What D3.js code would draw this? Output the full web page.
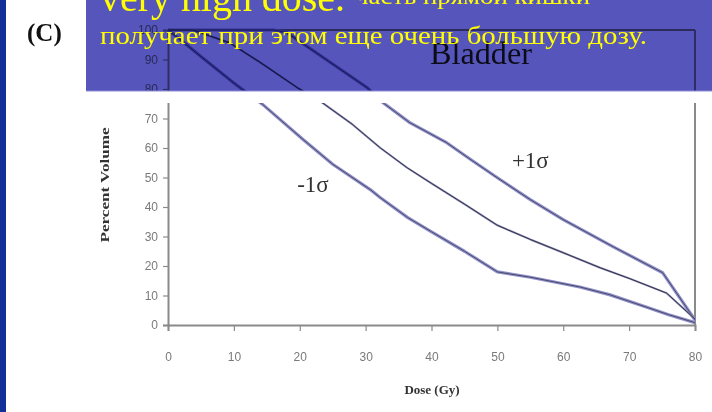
<!DOCTYPE html>
<html><head><meta charset="utf-8">
<script src="https://cdn.jsdelivr.net/npm/d3@7"></script>
<style>html,body{margin:0;padding:0;background:#fff;}svg{display:block;}</style>
</head><body>
<script>
// ---- data ----
const xTicks = [0, 10, 20, 30, 40, 50, 60, 70, 80];
const yTicks = [0, 10, 20, 30, 40, 50, 60, 70, 80, 90, 100];

const doseMinus = [0, 2, 5, 9.9, 10.9, 14.4, 20.5, 25, 30.7, 32.2, 36.4, 40, 45, 50, 55, 62.5, 67, 72.7, 76, 80];
const volMinus  = [100, 96.5, 91, 82.2, 80.5, 74.7, 62.9, 54.5, 45.9, 43.2, 36.4, 31.6, 25, 18, 16.2, 12.9, 10.3, 6, 3.5, 0.8];

const doseMean = [0, 3.8, 9.4, 14, 19.6, 23.4, 28, 32.2, 36.3, 40, 45, 50, 55, 60, 65.6, 70, 75.7, 80];
const volMean  = [100, 100, 95.6, 89, 80.5, 75.4, 68, 60.1, 53.3, 48, 41, 33.8, 29, 24.5, 19.4, 15.8, 10.8, 2];

const dosePlus = [0, 16, 18, 24, 30.2, 32.6, 36.7, 42.3, 46, 50, 55, 60, 67.6, 75.1, 80];
const volPlus  = [100, 100, 99.2, 90, 80.5, 75.4, 68.6, 61.8, 56, 49.9, 42.5, 35.7, 26.5, 17.7, 1.7];

const curveLabels = ["-1σ", "+1σ"];
const labelDose = [22, 55];
const labelVol = [47, 55];

const W = 712, H = 412;
const svg = d3.select("body").append("svg").attr("width", W).attr("height", H);
svg.append("rect").attr("width", W).attr("height", H).attr("fill", "#fff");

const x = d3.scaleLinear().domain([0, 80]).range([168, 695]);
const y = d3.scaleLinear().domain([0, 100]).range([325, 30]);

const chart = svg.append("g");

// frame top & right
chart.append("line").attr("x1", x(0)).attr("x2", x(80)).attr("y1", y(100)).attr("y2", y(100))
  .attr("stroke", "#555").attr("stroke-width", 1.5);
chart.append("line").attr("x1", x(80)).attr("x2", x(80)).attr("y1", y(100)).attr("y2", y(0))
  .attr("stroke", "#8a8a8a").attr("stroke-width", 2);

// axes
const yAxis = chart.append("g").attr("transform", `translate(${x(0)},0)`)
  .call(d3.axisLeft(y).tickValues(yTicks).tickSize(5).tickPadding(5).tickFormat(d3.format("d")));
const xAxis = chart.append("g").attr("transform", `translate(0,${y(0)})`)
  .call(d3.axisBottom(x).tickValues(xTicks).tickSize(6).tickPadding(21).tickFormat(d3.format("d")));
[yAxis, xAxis].forEach(a => {
  a.select(".domain").attr("stroke", "#8a8a8a").attr("stroke-width", 2);
  a.selectAll(".tick line").attr("stroke", "#8a8a8a").attr("stroke-width", 1.2);
  a.selectAll("text").attr("fill", "#7a7a7a").attr("font-family", "Liberation Sans, Arial, sans-serif").attr("font-size", 12);
});

// curves
const line = (ds, vs) => d3.line().x((d, i) => x(ds[i])).y((d, i) => y(vs[i]))(ds);
function drawCurve(ds, vs, halo, haloW, core, coreW) {
  chart.append("path").attr("d", line(ds, vs)).attr("fill", "none")
    .attr("stroke", halo).attr("stroke-width", haloW).attr("stroke-linejoin", "round");
  chart.append("path").attr("d", line(ds, vs)).attr("fill", "none")
    .attr("stroke", core).attr("stroke-width", coreW).attr("stroke-linejoin", "round");
}
drawCurve(doseMinus, volMinus, "#9090cc", 3.2, "#4a4a6a", 1);
drawCurve(dosePlus, volPlus, "#9090cc", 3.2, "#4a4a6a", 1);
drawCurve(doseMean, volMean, "#8a8ab8", 2, "#2a2a3a", 0.9);

// curve labels
curveLabels.forEach((t, i) => {
  chart.append("text").attr("x", x(labelDose[i])).attr("y", y(labelVol[i]))
    .attr("text-anchor", "middle").attr("dominant-baseline", "middle")
    .attr("font-family", "Liberation Serif, Times New Roman, serif").attr("font-size", 23)
    .attr("fill", "#333").text(t);
});

// title
chart.append("text").attr("x", 430).attr("y", 64).attr("font-family", "Liberation Serif, Times New Roman, serif")
  .attr("font-size", 31).attr("fill", "#222").attr("textLength", 102).attr("lengthAdjust", "spacingAndGlyphs").text("Bladder");

// axis titles
chart.append("text").attr("transform", "translate(109,185) rotate(-90)").attr("text-anchor", "middle")
  .attr("font-family", "Liberation Serif, Times New Roman, serif").attr("font-weight", "bold")
  .attr("font-size", 13).attr("fill", "#333").attr("textLength", 115).attr("lengthAdjust", "spacingAndGlyphs")
  .text("Percent Volume");
chart.append("text").attr("x", 432).attr("y", 394).attr("text-anchor", "middle")
  .attr("font-family", "Liberation Serif, Times New Roman, serif").attr("font-weight", "bold")
  .attr("font-size", 13).attr("fill", "#333").text("Dose (Gy)");

// white gap strip
svg.append("rect").attr("x", 86).attr("y", 91).attr("width", W - 86).attr("height", 12).attr("fill", "#fff");

// blue overlay (multiply)
svg.append("rect").attr("x", 86).attr("y", 0).attr("width", W - 86).attr("height", 91)
  .attr("fill", "#5555bb").style("mix-blend-mode", "multiply");
svg.append("line").attr("x1", 86).attr("x2", W).attr("y1", 91).attr("y2", 91).attr("stroke", "#8e8ed6").attr("stroke-width", 1);

// yellow text
const serif = "Liberation Serif, Times New Roman, serif";
svg.append("text").attr("x", 100).attr("y", 11).attr("font-family", serif).attr("font-size", 40)
  .attr("fill", "#ffff00").attr("textLength", 245).attr("lengthAdjust", "spacingAndGlyphs").text("very high dose.");
svg.append("text").attr("x", 355).attr("y", 4).attr("font-family", serif).attr("font-size", 24)
  .attr("fill", "#ffff00").attr("textLength", 235).attr("lengthAdjust", "spacingAndGlyphs").text("часть прямой кишки");
svg.append("text").attr("x", 100).attr("y", 44).attr("font-family", serif).attr("font-size", 25)
  .attr("fill", "#ffff00").attr("textLength", 547).attr("lengthAdjust", "spacingAndGlyphs").text("получает при этом еще очень большую дозу.");

// (C)
svg.append("text").attr("x", 27).attr("y", 41).attr("font-family", serif).attr("font-weight", "bold")
  .attr("font-size", 25).attr("fill", "#111").text("(C)");

// left stripe
svg.append("rect").attr("x", 0).attr("y", 0).attr("width", 6).attr("height", H).attr("fill", "#12309a");
</script>
</body></html>
